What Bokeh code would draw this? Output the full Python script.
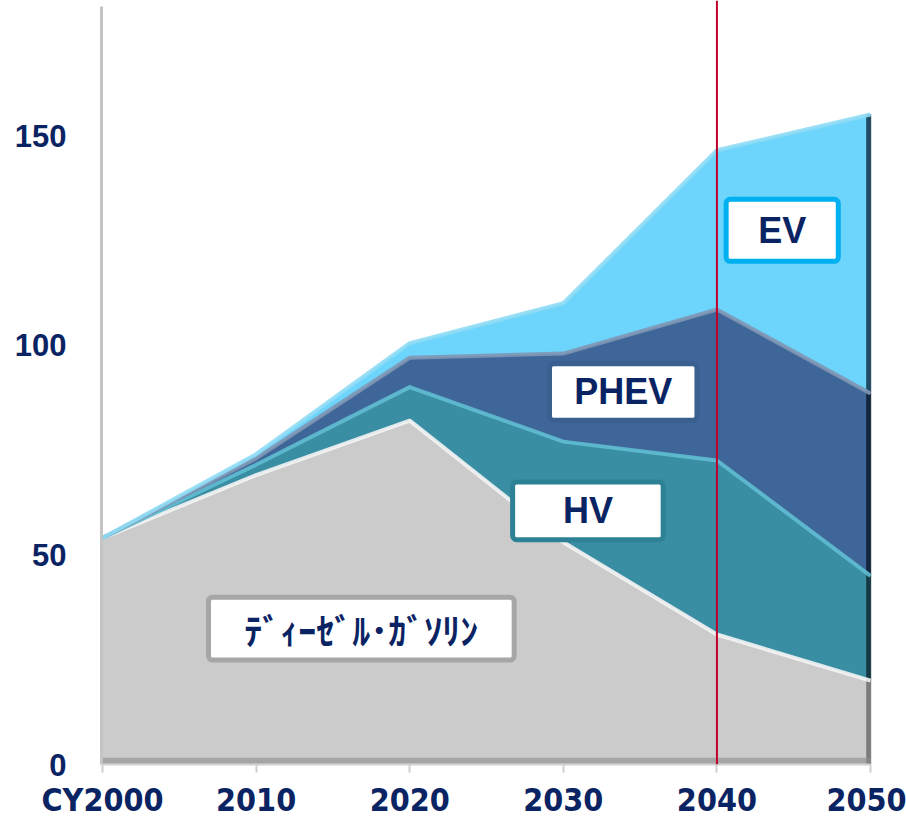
from bokeh.plotting import figure
from bokeh.models import ColumnDataSource, Span, BoxAnnotation, Label, FixedTicker, Range1d
from bokeh.embed import file_html
from bokeh.resources import INLINE

# ---- data ----
years = [2000, 2010, 2020, 2030, 2040, 2050]
gasoline = [54, 69, 82, 53, 31, 20]
hv = [0, 2.5, 8, 24, 41.5, 25]
phev = [0, 1.5, 7, 21, 36, 43.5]
ev = [0, 1, 3.5, 12, 38, 66.5]

series_names = ["gasoline", "hv", "phev", "ev"]
series_labels = ["ﾃﾞｨｰｾﾞﾙ･ｶﾞｿﾘﾝ", "HV", "PHEV", "EV"]
x_ticks = [2000, 2010, 2020, 2030, 2040, 2050]
x_tick_labels = ["CY2000", "2010", "2020", "2030", "2040", "2050"]
y_ticks = [0, 50, 100, 150]
marker_year = 2040

# ---- styles ----
fill_colors = ["#cbcbcb", "#3a8ea3", "#3e6698", "#6dd5fb"]
top_colors = ["#f4f4f4", "#5fbdd2", "#8096b4", "#8fdcf5"]
edge_colors = ["#6e6e6e", "#0f2a33", "#0c1a2c", "#12324a"]
box_borders = ["#a6a6a6", "#2d8195", "#3a6090", "#00b0f0"]
navy = "#0a2463"

src = ColumnDataSource(dict(year=years, gasoline=gasoline, hv=hv, phev=phev, ev=ev))

p = figure(width=906, height=821, output_backend="svg", toolbar_location=None,
           x_range=Range1d(1999.935, 2051.69), y_range=Range1d(0, 182.2),
           min_border_left=101, min_border_right=10, min_border_top=0,
           min_border_bottom=0)
p.outline_line_color = None
p.grid.visible = False
p.background_fill_color = "white"

p.varea_stack(stackers=series_names, x="year", color=fill_colors, source=src)

# cumulative tops for edge highlights
cum = []
run = [0.0] * len(years)
for s in [gasoline, hv, phev, ev]:
    run = [a + b for a, b in zip(run, s)]
    cum.append(run)

bottoms = [[0.0] * len(years)] + cum[:-1]
# dark right edge (3D look)
for i in range(4):
    p.segment(x0=[years[-1] - 0.12], y0=[bottoms[i][-1]], x1=[years[-1] - 0.12],
              y1=[cum[i][-1]], line_color=edge_colors[i], line_width=5, line_alpha=0.85)
# bottom shadow of the gray area
p.line(years, [0.9] * len(years), line_color="#8c8c8c", line_width=6, line_alpha=0.6)
# highlighted top edges
for i in range(4):
    p.line(years, cum[i], line_color=top_colors[i], line_width=4, line_alpha=0.9,
           line_join="round")

# red marker line
p.add_layout(Span(location=marker_year, dimension="height", line_color="#c0002a",
                  line_width=2))

# label boxes (data-space placement)
boxes = [
    (2006.9, 2026.8, 39.9, 24.9),   # gasoline
    (2026.7, 2036.5, 67.4, 53.6),   # HV
    (2029.1, 2038.7, 95.6, 82.1),   # PHEV
    (2040.6, 2047.9, 134.8, 120.0), # EV
]
for i, (l, r, t, b) in enumerate(boxes):
    p.add_layout(BoxAnnotation(left=l, right=r, top=t, bottom=b, fill_color="white",
                               fill_alpha=1.0, line_color=box_borders[i], line_alpha=1.0,
                               line_width=5, border_radius=4, level="annotation"))
    font = "Noto Sans CJK JP" if i == 0 else "Liberation Sans"
    p.add_layout(Label(x=(l + r) / 2, y=(t + b) / 2, text=series_labels[i],
                       text_align="center", text_baseline="middle",
                       text_font=font, text_font_size="36px", text_font_style="bold",
                       text_color=navy))

# axes
xa = p.xaxis[0]
xa.ticker = FixedTicker(ticks=x_ticks)
xa.bounds = (years[0], years[-1])
xa.major_label_overrides = {t: s for t, s in zip(x_ticks, x_tick_labels)}
xa.axis_line_color = "#d0d0d0"
xa.axis_line_width = 2
xa.major_tick_line_color = "#d0d0d0"
xa.major_tick_line_width = 2
xa.major_tick_in = 0
xa.major_tick_out = 8
xa.minor_tick_line_color = None
xa.major_label_standoff = 8
xa.major_label_text_font = "'DejaVu Sans Condensed', 'Liberation Sans', sans-serif"
xa.major_label_text_font_size = "32px"
xa.major_label_text_font_style = "bold"
xa.major_label_text_color = navy

ya = p.yaxis[0]
ya.ticker = FixedTicker(ticks=y_ticks)
ya.bounds = (0, 180.8)
ya.axis_line_color = "#c4c4c4"
ya.axis_line_width = 3
ya.major_tick_line_color = None
ya.minor_tick_line_color = None
ya.major_tick_in = 0
ya.major_tick_out = 0
ya.major_label_standoff = 35
ya.major_label_text_font = "Liberation Sans"
ya.major_label_text_font_size = "31px"
ya.major_label_text_font_style = "bold"
ya.major_label_text_color = navy

open("out.html", "w").write(file_html(p, INLINE))
